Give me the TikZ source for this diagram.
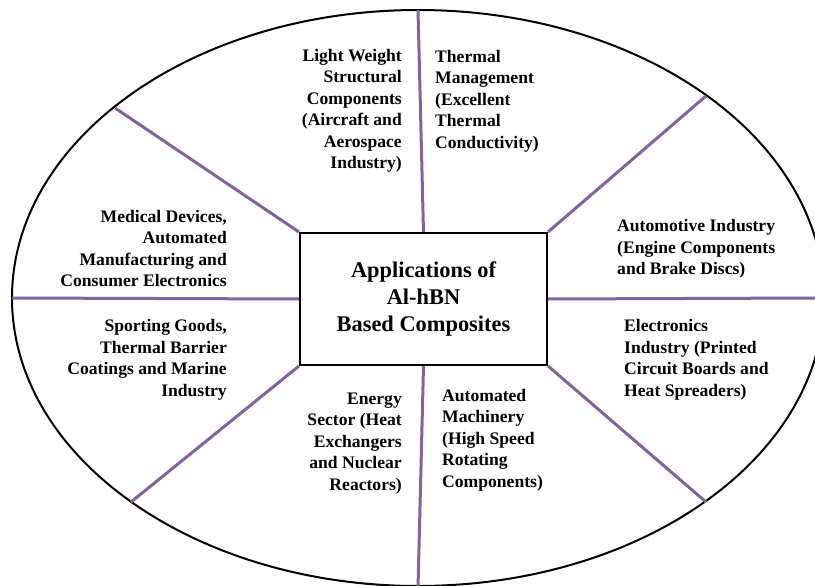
\documentclass[tikz,border=0pt]{standalone}
\usepackage{fontspec}
\setmainfont{Liberation Serif}
\definecolor{spoke}{HTML}{8064A2}
\begin{document}
\begin{tikzpicture}[x=1pt,y=-1pt,
  lbl/.style={font=\bfseries\fontsize{17.6}{21.5}\selectfont, inner sep=0pt, text=black},
  lblr/.style={lbl, align=right, anchor=east},
  lbll/.style={lbl, align=left, anchor=west},
  spokeline/.style={draw=spoke, line width=3pt},
  hub/.style={draw=black, line width=2pt, minimum width=247pt, minimum height=132pt, inner sep=0pt, align=center, font=\bfseries\fontsize{22.4}{27}\selectfont, fill=white}]
\useasboundingbox (0,0) rectangle (815,586);
\clip (0,0) rectangle (815,586);
\draw[line width=2pt] (418,298) ellipse [x radius=406pt, y radius=288pt];
\node[hub] (box) at (423.5,299) {Applications of\\Al-hBN\\Based Composites};
\coordinate (eT) at (418,10);
\coordinate (eB) at (418,588);
\coordinate (eL) at (12,298);
\coordinate (eR) at (818,298);
\coordinate (eTL) at (115,108);
\coordinate (eTR) at (706,96);
\coordinate (eBL) at (131,502);
\coordinate (eBR) at (706,502);
\draw[spokeline] (box.north) -- (eT);
\draw[spokeline] (box.south) -- (eB);
\draw[spokeline] (box.west) -- (eL);
\draw[spokeline] (box.east) -- (eR);
\draw[spokeline] (box.north west) -- (eTL);
\draw[spokeline] (box.north east) -- (eTR);
\draw[spokeline] (box.south west) -- (eBL);
\draw[spokeline] (box.south east) -- (eBR);
\node[hub, fill=none] at (box.center) {};
\node[lblr] (lw) at (402,111) {Light Weight\\Structural\\Components\\(Aircraft and\\Aerospace\\Industry)};
\node[lbll] (tm) at (435,101) {Thermal\\Management\\(Excellent\\Thermal\\Conductivity)};
\node[lblr] (md) at (227,248.5) {Medical Devices,\\Automated\\Manufacturing and\\Consumer Electronics};
\node[lbll] (ai) at (617,249) {Automotive Industry\\(Engine Components\\and Brake Discs)};
\node[lblr] (sg) at (227,360) {Sporting Goods,\\Thermal Barrier\\Coatings and Marine\\Industry};
\node[lbll] (ei) at (624,360) {Electronics\\Industry (Printed\\Circuit Boards and\\Heat Spreaders)};
\node[lblr] (es) at (402,443.5) {Energy\\Sector (Heat\\Exchangers\\and Nuclear\\Reactors)};
\node[lbll] (am) at (442,440) {Automated\\Machinery\\(High Speed\\Rotating\\Components)};
\end{tikzpicture}
\end{document}
